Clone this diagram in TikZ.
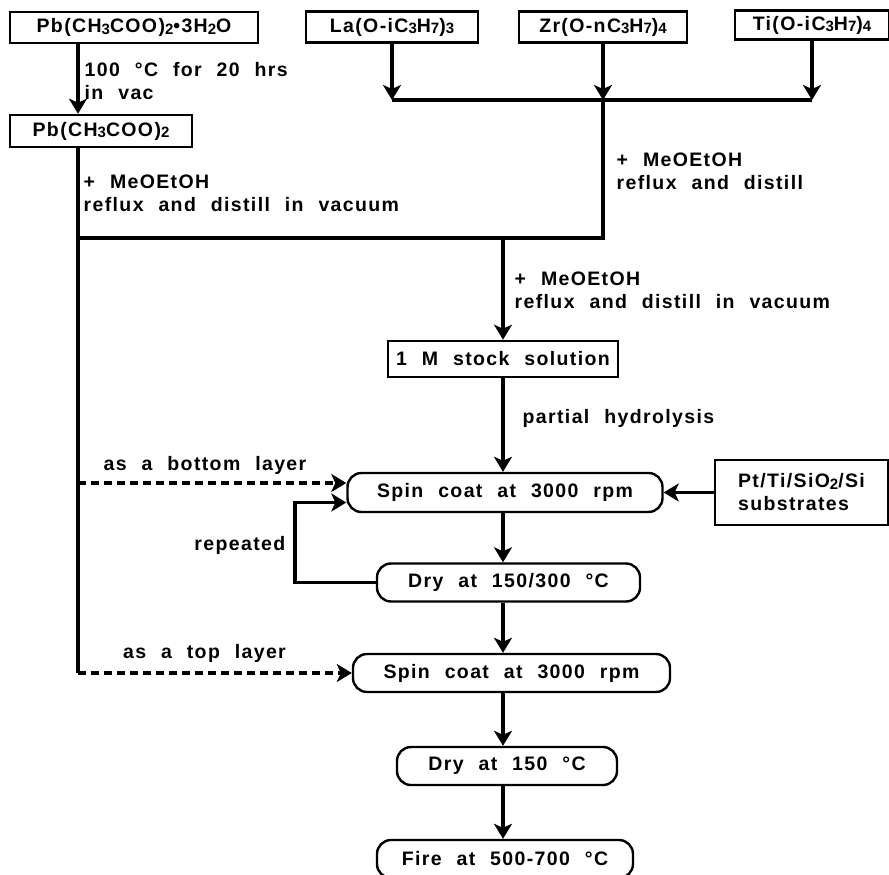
\documentclass[tikz,border=0pt]{standalone}
\usepackage{fontspec}
\setmainfont{Liberation Sans}[LetterSpace=7,WordSpace=2.2]
\usetikzlibrary{positioning,arrows.meta,calc}
% lowered small digits for the formulas
\newcommand{\chsub}[1]{\raisebox{-1.5pt}{\fontsize{15}{15}\selectfont #1}}

\begin{document}
\begin{tikzpicture}[x=1pt,y=-1pt,font=\fontsize{19.5}{23}\selectfont\bfseries,
  line width=3.4pt,
  chem/.style={draw,line width=2.6pt,minimum height=31pt,inner sep=0pt},
  stage/.style={draw,line width=2.4pt,rounded corners=14pt,minimum height=38pt,inner sep=0pt},
  note/.style={align=left,anchor=west,inner sep=0pt},
  arr/.style={-{Stealth[length=15pt,width=18pt,inset=4pt]}},
  feed/.style={arr,dash pattern=on 8pt off 5pt}]
\useasboundingbox (0,0) rectangle (889,875);

% starting materials
\node[chem,minimum width=248pt] (pbhyd) at (134,27.5) {Pb(CH\chsub{3}COO)\chsub{2}•3H\chsub{2}O};
\node[chem,minimum width=182pt,minimum height=32pt] (pbac) at (101,131) {Pb(CH\chsub{3}COO)\chsub{2}};
\node[chem,minimum width=172pt] (la) at (392,27) {La(O-iC\chsub{3}H\chsub{7})\chsub{3}};
\node[chem,minimum width=168pt] (zr) at (603,27) {Zr(O-nC\chsub{3}H\chsub{7})\chsub{4}};
\node[chem,minimum width=154pt,minimum height=29pt] (ti) at (812,25) {Ti(O-iC\chsub{3}H\chsub{7})\chsub{4}};

% solution and film steps
\node[chem,minimum width=230pt,minimum height=36pt] (stock) at (503,359) {1 M stock solution};
\node[stage,minimum width=315pt,minimum height=39pt] (spin1) at (505,492.5) {Spin coat at 3000 rpm};
\node[chem,minimum width=173pt,minimum height=65pt,align=left] (subs) at (801.5,492.5) {Pt/Ti/SiO\chsub{2}/Si\\substrates};
\node[stage,minimum width=263pt] (dry1) at (508.5,582.5) {Dry at 150/300 °C};
\node[stage,minimum width=317pt] (spin2) at (511.5,673) {Spin coat at 3000 rpm};
\node[stage,minimum width=220pt] (dry2) at (507,766) {Dry at 150 °C};
\node[stage,minimum width=256pt] (fire) at (505,859) {Fire at 500-700 °C};

% step notes
\node[note] (heat) at (83,81) {100 °C for 20 hrs\\in vac};
\node[note] (solvA) at (82,193) {+ MeOEtOH\\reflux and distill in vacuum};
\node[note] (solvB) at (615,171) {+ MeOEtOH\\reflux and distill};
\node[note] (solvC) at (513,290) {+ MeOEtOH\\reflux and distill in vacuum};
\node[note] (hydro) at (521,418) {partial hydrolysis};
\node[inner sep=0pt] (botlab) at (205,465) {as a bottom layer};
\node[inner sep=0pt] (toplab) at (204.5,653) {as a top layer};
\node[inner sep=0pt,anchor=east] (rep) at (287,545) {repeated};

\coordinate (mix) at (603,100);
\coordinate (merge) at (78,238);
\coordinate (loop) at (295,582.5);
\coordinate (bot) at ([yshift=9.5pt]spin1.west);

% lead branch
\draw[arr] (pbhyd.south -| merge) -- (pbac.north -| merge);
\draw (pbac.south -| merge) -- (merge |- spin2.west);
\draw[feed] (merge |- bot) -- (bot);
\draw[feed] (merge |- spin2.west) -- (spin2.west);

% alkoxides
\draw (la.south |- mix) -- (ti.south |- mix);
\foreach \src in {la,zr,ti}
  \draw[arr] (\src.south) -- (\src.south |- mix);
\draw (mix) -- (mix |- merge) -- (merge);

% main line
\draw[arr] (stock.north |- merge) -- (stock.north);
\draw[arr] (stock.south) -- (stock.south |- spin1.north);
\foreach \a/\b in {spin1/dry1,dry1/spin2,spin2/dry2,dry2/fire}
  \draw[arr] (stock.south |- \a.south) -- (stock.south |- \b.north);
\draw[arr] (subs.west) -- (spin1.east);
\draw[arr] (dry1.west) -- (loop) |- ([yshift=-10pt]spin1.west);
\end{tikzpicture}
\end{document}
